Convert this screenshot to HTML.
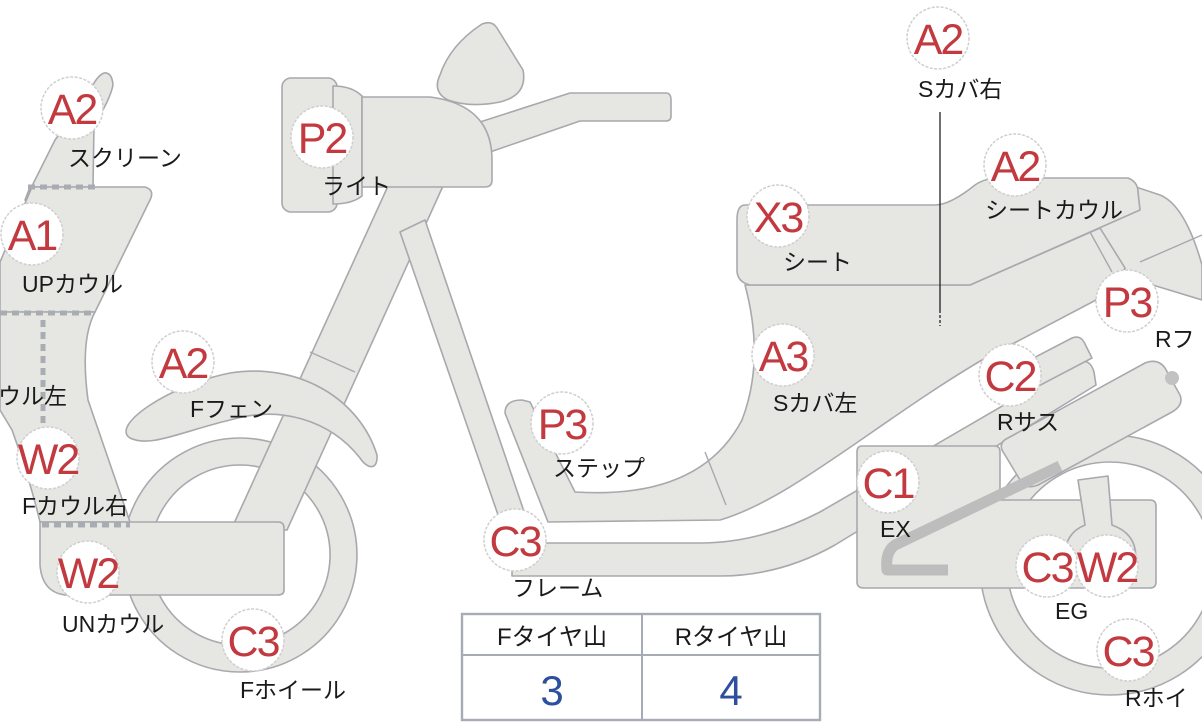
<!DOCTYPE html>
<html><head><meta charset="utf-8"><style>
html,body{margin:0;padding:0;background:#fff;}
svg{display:block;}
.s{fill:#e6e6e3;stroke:#a7a9ad;stroke-width:1.6;stroke-linejoin:round;}
.l{fill:none;stroke:#a7a9ad;stroke-width:1.4;}
.c{fill:#fff;stroke:#cfcfcf;stroke-width:1.5;stroke-dasharray:3 1.5;}
.r{fill:#c2393f;font-family:"Liberation Sans",sans-serif;font-size:43px;text-anchor:middle;letter-spacing:-2px;}
.t{fill:#1a1a1a;font-family:"Liberation Sans","Noto Sans CJK JP",sans-serif;font-size:23px;}
.d{fill:none;stroke:#a9adb3;stroke-width:5;stroke-dasharray:7 5;}
</style></head><body>
<svg width="1202" height="722" viewBox="0 0 1202 722" xmlns="http://www.w3.org/2000/svg">
<!-- rear wheel -->
<path class="s" fill-rule="evenodd" d="M1110,435 A130,130 0 1 1 1109.9,435 Z M1110,462 A103,103 0 1 0 1110.1,462 Z"/>
<!-- front wheel -->
<path class="s" fill-rule="evenodd" d="M240,438 A117,117 0 1 1 239.9,438 Z M240,465 A90,90 0 1 0 240.1,465 Z"/>
<!-- fork -->
<path class="s" d="M388,186 L443,186 L287,530 L231,530 Z"/>
<path class="l" d="M310,352 L355,372 M296,382 L341,402"/>
<!-- F fender -->
<path class="s" d="M130,438 C110,425 170,385 230,373 C300,362 360,400 377,455 C378,470 368,470 360,458 C330,420 280,405 230,420 C180,432 150,448 130,438 Z"/>
<!-- down tube frame -->
<path class="s" d="M400,232 L425,220 L532,535 L505,535 Z"/>
<!-- frame band -->
<path class="s" d="M512,543 L700,543 Q760,543 820,512 L1078,362 Q1090,358 1094,372 L1096,385 L835,545 Q780,576 720,576 L512,576 Z"/>
<!-- mirror -->
<path class="s" d="M440,75 Q450,45 482,24 Q492,20 497,28 L523,70 Q528,95 500,102 Q470,108 448,100 Q432,92 440,75 Z"/>
<!-- handlebar -->
<path class="s" d="M480,122 L570,93 L666,93 Q671,93 671,100 L671,116 Q671,121 666,121 L580,121 L490,152 Z"/>
<!-- headlight -->
<rect class="s" x="282" y="78" width="55" height="134" rx="9"/>
<path class="s" d="M333,86 Q352,86 362,96 L362,196 Q352,204 333,204 Z"/>
<path class="s" d="M362,97 L430,97 Q492,105 492,160 L492,180 Q492,187 485,187 L362,187 Z"/>
<!-- screen & UP cowl -->
<path class="s" d="M93,187 L94,125 Q110,100 113,85 Q112,72 104,73 Q96,76 88,95 L55,140 L25,200 L30,187 Z"/>
<path class="s" d="M32,187 L145,187 Q155,190 150,200 L95,312 L0,312 L0,262 Z"/>
<!-- left cowl -->
<path class="s" d="M0,312 L95,312 Q80,340 88,400 L130,522 L40,522 Q30,480 12,430 L0,410 Z"/>
<!-- UN cowl -->
<path class="s" d="M40,522 L278,522 Q284,522 284,528 L284,590 Q284,595 278,595 L65,595 Q42,592 40,565 Z"/>
<path class="d" d="M28,187 L95,187 M0,313 L95,313 M43,320 L43,450 M42,525 L130,525"/>
<!-- seat + cowl -->
<path class="s" d="M1090,240 L1130,185 L1160,195 Q1185,205 1202,265 L1202,300 L1110,272 Z"/>
<path class="s" d="M745,285 L970,285 L1100,228 L1125,268 L1115,290 L982,360 C880,420 790,500 720,520 L548,522 L505,413 Q505,400 522,400 L530,402 L575,492 Q700,500 742,420 Q765,360 745,285 Z"/>
<path class="l" d="M705,452 L726,505"/>
<path class="s" d="M745,205 L935,205 Q950,205 975,185 Q985,178 1000,178 L1128,178 Q1138,182 1138,192 L1140,210 L970,285 L750,285 Q737,282 737,270 L737,220 Q737,205 745,205 Z"/>
<path class="l" d="M1090,232 L1112,272 M1140,262 L1202,235"/>
<!-- rear shock -->
<path class="s" d="M995,378 L1072,338 Q1080,335 1084,342 L1092,358 L1008,402 Z"/>
<!-- engine -->
<path class="s" d="M862,446 L995,446 Q1000,446 1000,452 L1000,500 L1150,500 Q1156,500 1156,506 L1156,582 Q1156,588 1150,588 L864,588 Q857,588 857,582 L857,452 Q857,446 862,446 Z"/>
<path class="s" d="M1078,480 L1108,476 L1112,525 Q1140,535 1135,565 L1065,570 Q1060,535 1085,525 Z"/>
<!-- swing arm -->
<path class="s" d="M1008,438 L1145,363 Q1158,358 1165,368 L1180,395 Q1184,405 1172,412 L1038,485 Q1025,490 1020,480 L1002,450 Q999,442 1008,438 Z"/>
<circle cx="1172" cy="378" r="7" fill="#c2c2c2"/>
<path d="M1060,466 L895,545 Q885,552 887,570 L948,570" fill="none" stroke="#bdbdbd" stroke-width="11" stroke-linejoin="round"/>
<!-- S cover right line -->
<line x1="940" y1="112" x2="940" y2="310" stroke="#222" stroke-width="1.3"/>
<line x1="940" y1="310" x2="940" y2="326" stroke="#222" stroke-width="1.3" stroke-dasharray="3 2"/>
<!-- table -->
<rect x="462" y="614" width="358" height="106" fill="#fff" stroke="#a6abb5" stroke-width="2.4"/>
<line x1="462" y1="655" x2="820" y2="655" stroke="#a6abb5" stroke-width="2"/>
<line x1="642" y1="614" x2="642" y2="720" stroke="#a6abb5" stroke-width="2"/>
<text class="t" x="552" y="645" text-anchor="middle" style="font-size:24px">Fタイヤ山</text>
<text class="t" x="731" y="645" text-anchor="middle" style="font-size:24px">Rタイヤ山</text>
<text x="552" y="705" text-anchor="middle" style="fill:#2c4f9e;font-family:'Liberation Sans',sans-serif;font-size:42px">3</text>
<text x="731" y="705" text-anchor="middle" style="fill:#2c4f9e;font-family:'Liberation Sans',sans-serif;font-size:42px">4</text>
<!-- badges -->
<g>
<circle class="c" cx="72" cy="108" r="31"/><text class="r" x="72" y="124">A2</text>
<circle class="c" cx="32" cy="234" r="31"/><text class="r" x="32" y="250">A1</text>
<circle class="c" cx="48" cy="458" r="31"/><text class="r" x="48" y="474">W2</text>
<circle class="c" cx="88" cy="572" r="31"/><text class="r" x="88" y="588">W2</text>
<circle class="c" cx="253" cy="640" r="31"/><text class="r" x="253" y="656">C3</text>
<circle class="c" cx="183" cy="362" r="31"/><text class="r" x="183" y="378">A2</text>
<circle class="c" cx="322" cy="137" r="31"/><text class="r" x="322" y="153">P2</text>
<circle class="c" cx="515" cy="540" r="31"/><text class="r" x="515" y="556">C3</text>
<circle class="c" cx="562" cy="423" r="31"/><text class="r" x="562" y="439">P3</text>
<circle class="c" cx="778" cy="216" r="31"/><text class="r" x="778" y="232">X3</text>
<circle class="c" cx="783" cy="355" r="31"/><text class="r" x="783" y="371">A3</text>
<circle class="c" cx="938" cy="38" r="31"/><text class="r" x="938" y="54">A2</text>
<circle class="c" cx="1015" cy="165" r="31"/><text class="r" x="1015" y="181">A2</text>
<circle class="c" cx="1127" cy="301" r="31"/><text class="r" x="1127" y="317">P3</text>
<circle class="c" cx="1010" cy="375" r="31"/><text class="r" x="1010" y="391">C2</text>
<circle class="c" cx="888" cy="482" r="31"/><text class="r" x="888" y="498">C1</text>
<circle class="c" cx="1047" cy="566" r="31"/><text class="r" x="1047" y="582">C3</text>
<circle class="c" cx="1107" cy="566" r="31"/><text class="r" x="1107" y="582">W2</text>
<circle class="c" cx="1128" cy="650" r="31"/><text class="r" x="1128" y="666">C3</text>
</g>
<!-- labels -->
<text class="t" x="68" y="166">スクリーン</text>
<text class="t" x="22" y="292">UPカウル</text>
<text class="t" x="-2" y="404">ウル左</text>
<text class="t" x="22" y="514">Fカウル右</text>
<text class="t" x="62" y="632">UNカウル</text>
<text class="t" x="240" y="698">Fホイール</text>
<text class="t" x="190" y="417">Fフェン</text>
<text class="t" x="322" y="194">ライト</text>
<text class="t" x="512" y="596">フレーム</text>
<text class="t" x="553" y="476">ステップ</text>
<text class="t" x="783" y="270">シート</text>
<text class="t" x="773" y="411">Sカバ左</text>
<text class="t" x="918" y="97">Sカバ右</text>
<text class="t" x="985" y="218">シートカウル</text>
<text class="t" x="1155" y="347">Rフ</text>
<text class="t" x="997" y="430">Rサス</text>
<text class="t" x="880" y="537">EX</text>
<text class="t" x="1055" y="619">EG</text>
<text class="t" x="1125" y="706">Rホイ</text>
</svg>
</body></html>
